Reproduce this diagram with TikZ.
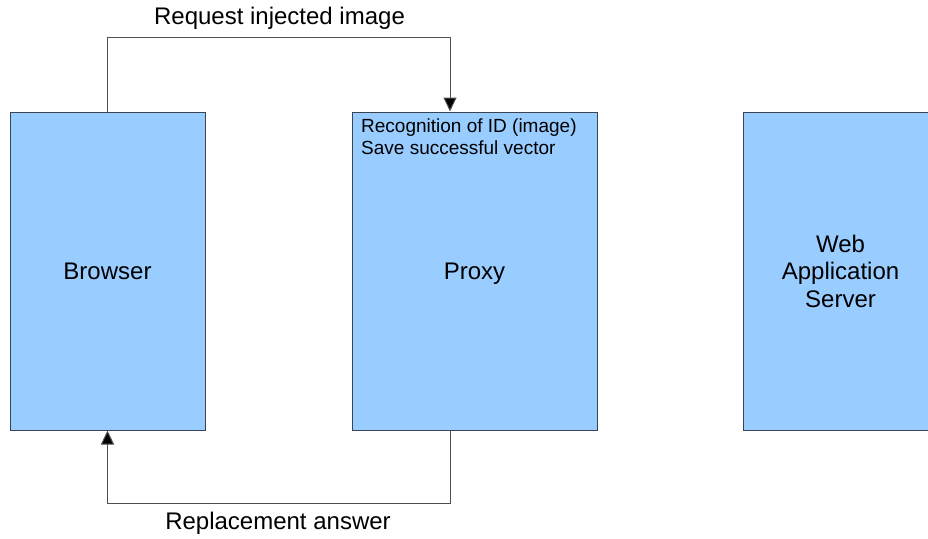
\documentclass[tikz,border=0pt]{standalone}
\usepackage{fontspec}
\setmainfont{Liberation Sans}
\usetikzlibrary{arrows.meta,calc}
\definecolor{boxfill}{HTML}{99CCFF}
\definecolor{boxline}{HTML}{3A4452}
\definecolor{conline}{HTML}{505050}
\begin{document}
\begin{tikzpicture}[x=1pt,y=-1pt,
  box/.style={draw=boxline,fill=boxfill,line width=1pt,minimum height=318pt,inner sep=0pt,
    font=\fontsize{24}{27.5}\selectfont,align=center},
  conn/.style={draw=conline,line width=1pt,-{Triangle[length=14pt,width=13pt,fill=black]}},
  lbl/.style={font=\fontsize{24}{28}\selectfont,inner sep=0pt},
  note/.style={font=\fontsize{19}{22}\selectfont,align=left,inner sep=0pt,anchor=north west}]
\clip (0,0) rectangle (928,538);
\fill[white] (0,0) rectangle (928,538);
\node[box,minimum width=195pt] (browser) at (107.5,271) {Browser};
\node[box,minimum width=245pt] (proxy) at (474.5,271) {\raisebox{0pt}[\height][0pt]{Proxy}};
\node[box,minimum width=195pt] (web) at (840.5,271) {Web\\Application\\Server};
\node[note] (pnote) at (361,119) {Recognition of ID (image)\\Save successful vector};
\draw[conn] (browser.north) -- ++(0,-74) -| ([xshift=-24.5pt]proxy.north);
\draw[conn] ([xshift=-24.5pt]proxy.south) -- ++(0,73) -| (browser.south);
\node[lbl] (toplbl) at (279.5,18) {Request injected image};
\node[lbl] (botlbl) at (278,523) {Replacement answer};
\end{tikzpicture}
\end{document}
